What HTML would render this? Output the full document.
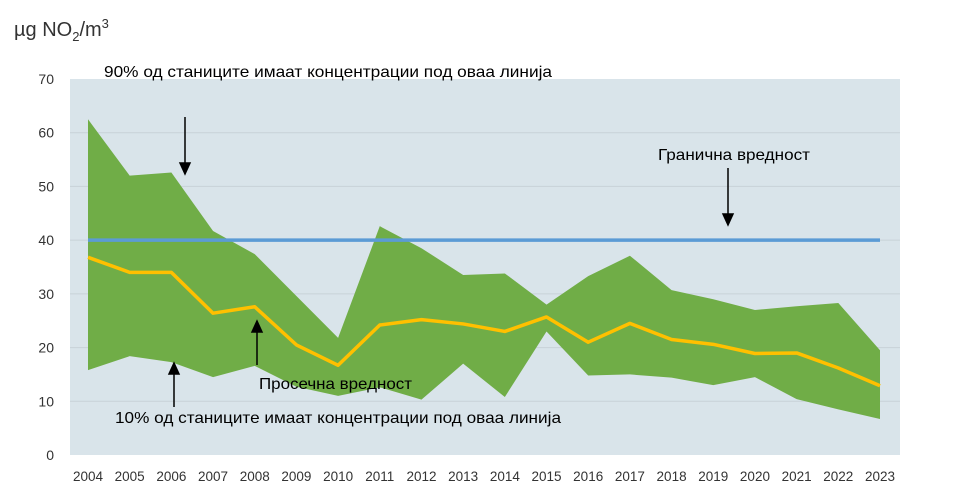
<!DOCTYPE html>
<html><head><meta charset="utf-8"><style>
body{margin:0;background:#fff;}
svg text{font-family:"Liberation Sans","DejaVu Sans",sans-serif;}
</style></head><body>
<svg id="chart" width="960" height="496" xmlns="http://www.w3.org/2000/svg">
<text x="14" y="36" font-size="20" fill="#333">µg NO<tspan font-size="13" dy="5">2</tspan><tspan dy="-5">/m</tspan><tspan font-size="13" dy="-8">3</tspan></text>
<rect x="70" y="79" width="830" height="376" fill="#d9e4ea"/>
<g id="grid"></g><g id="series"></g><g id="axes"></g>
<text x="104" y="77" font-size="16" textLength="448" lengthAdjust="spacingAndGlyphs" fill="#000">90% од станиците имаат концентрации под оваа линија</text>
<text x="658" y="160" font-size="16" textLength="152" lengthAdjust="spacingAndGlyphs" fill="#000">Гранична вредност</text>
<text x="259" y="389" font-size="16" textLength="153" lengthAdjust="spacingAndGlyphs" fill="#000">Просечна вредност</text>
<text x="115" y="423" font-size="16" textLength="446" lengthAdjust="spacingAndGlyphs" fill="#000">10% од станиците имаат концентрации под оваа линија</text>
<g stroke="#000" stroke-width="1.5" fill="#000">
<line x1="185" y1="117" x2="185" y2="165"/><polygon points="180,163 190,163 185,174"/>
<line x1="728" y1="168" x2="728" y2="216"/><polygon points="723,214 733,214 728,225"/>
<line x1="257" y1="365" x2="257" y2="330"/><polygon points="252,332 262,332 257,321"/>
<line x1="174" y1="407" x2="174" y2="372"/><polygon points="169,374 179,374 174,363"/>
</g>
</svg>
<script>
const years=[2004,2005,2006,2007,2008,2009,2010,2011,2012,2013,2014,2015,2016,2017,2018,2019,2020,2021,2022,2023];
const p90=[62.5,52,52.6,41.7,37.4,29.6,21.8,42.6,38.5,33.5,33.8,28,33.3,37.1,30.7,29,27,27.7,28.3,19.5];
const p10=[15.8,18.4,17.3,14.5,16.6,12.7,11,12.6,10.3,17,10.8,23,14.8,15,14.4,13,14.5,10.4,8.5,6.7];
const mean=[36.8,34,34,26.4,27.6,20.5,16.7,24.2,25.2,24.4,23,25.7,21,24.5,21.5,20.6,18.9,19,16.2,12.9];
const limitValue=[40];
const yTicks=[0,10,20,30,40,50,60,70];
const NS="http://www.w3.org/2000/svg";
const X=i=>88+i*(880-88)/(years.length-1);
const Y=v=>455-v*(376/70);
function mk(tag,attrs,parent,txt){const e=document.createElementNS(NS,tag);for(const k in attrs)e.setAttribute(k,attrs[k]);if(txt!==undefined)e.textContent=txt;parent.appendChild(e);return e;}
const grid=document.getElementById('grid'),series=document.getElementById('series'),axes=document.getElementById('axes');
yTicks.forEach(t=>{
  if(t>0&&t<70){const g=mk('line',{x1:70,x2:900,y1:Y(t),y2:Y(t),stroke:'#c8d2d8','stroke-width':1},grid);
  
  }
  const l=mk('text',{x:54,y:Y(t)+5,'font-size':14,'text-anchor':'end',fill:'#333'},axes,String(t));
  
  
});
years.forEach((yr,i)=>{
  const l=mk('text',{x:X(i),y:481,'font-size':13.5,'text-anchor':'middle',fill:'#333'},axes,String(yr));
  
  
});
let d='M'+p90.map((v,i)=>X(i)+','+Y(v)).join(' L');
for(let i=p10.length-1;i>=0;i--)d+=' L'+X(i)+','+Y(p10[i]);
const band=mk('path',{d:d+'Z',fill:'#70ad47'},series);


const lim=mk('line',{x1:X(0),x2:X(years.length-1),y1:Y(limitValue[0]),y2:Y(limitValue[0]),stroke:'#5b9bd5','stroke-width':3.5},series);


const ml=mk('polyline',{points:mean.map((v,i)=>X(i)+','+Y(v)).join(' '),fill:'none',stroke:'#ffc000','stroke-width':3.5,'stroke-linejoin':'round'},series);


</script>
</body></html>
